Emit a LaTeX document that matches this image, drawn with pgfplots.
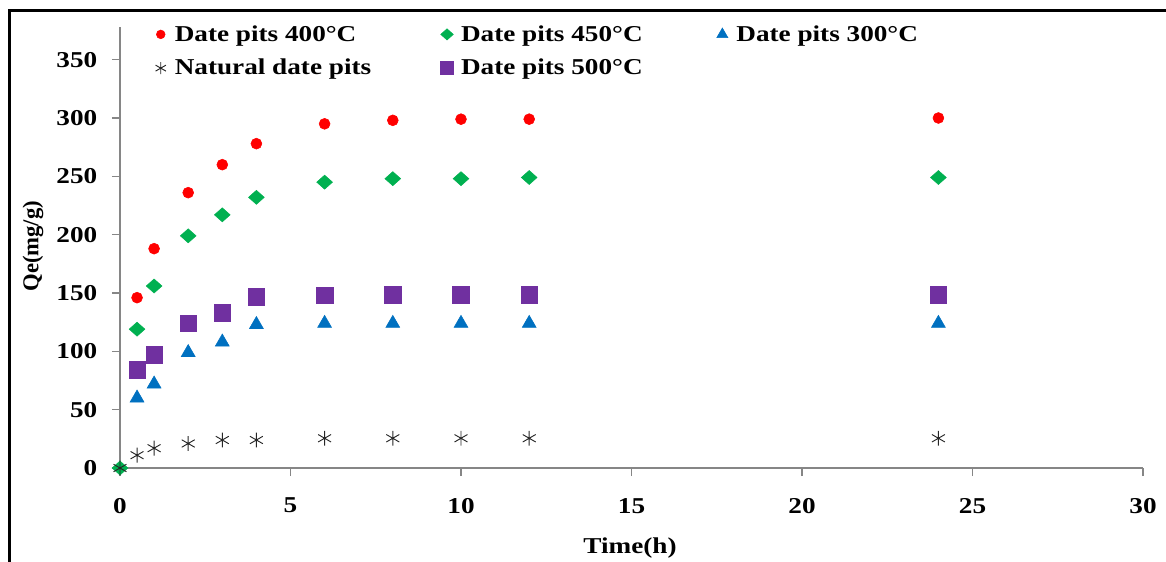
\documentclass[border=0pt]{standalone}
\usepackage{fontspec}
\setmainfont{Liberation Serif}[FakeStretch=1.2]
\newfontfamily\plainserif{Liberation Serif}
\usepackage{pgfplots}
\pgfplotsset{compat=1.18}
\usepackage{pgfplotstable}

\definecolor{cRed}{RGB}{255,0,0}
\definecolor{cGreen}{RGB}{0,176,80}
\definecolor{cBlue}{RGB}{0,112,192}
\definecolor{cPurple}{RGB}{112,48,160}
\definecolor{axgray}{RGB}{134,134,134}

\pgfplotstableread{
x y
0.5 146
1 188
2 236
3 260
4 278
6 295
8 298
10 299
12 299
24 300
}\tRed
\pgfplotstableread{
x y
0 0
0.5 119
1 156
2 199
3 217
4 232
6 245
8 248
10 248
12 249
24 249
}\tGreen
\pgfplotstableread{
x y
0.5 60
1 72
2 99
3 108
4 123
6 124
8 124
10 124
12 124
24 124
}\tBlue
\pgfplotstableread{
x y
0 0
0.5 11
1 17
2 21
3 24
4 24
6 25.5
8 25.5
10 25.5
12 25.5
24 25.5
}\tNat
\pgfplotstableread{
x y
0.5 84
1 97
2 124
3 133
4 147
6 148
8 148.5
10 148.5
12 148.5
24 148.5
}\tPurple

\begin{document}
\begin{tikzpicture}
\begin{axis}[
  at={(0pt,0pt)}, anchor=south west,
  scale only axis, width=767.25pt, height=330.75pt,
  xmin=0, xmax=30, ymin=0, ymax=378,
  axis x line*=bottom, axis y line*=left,
  axis line style={draw=axgray, line width=1pt, -},
  tick style={draw=axgray, line width=1pt},
  major tick length=6pt, tick align=outside,
  xtick={0,5,...,30}, ytick={0,50,...,350},
  /pgf/number format/assume math mode=true,
  ticklabel style={font=\bfseries\fontsize{17}{20}\selectfont},
  yticklabel style={xshift=-7.5pt},
  xticklabel style={yshift=-13pt},
  xlabel={Time(h)}, ylabel={Qe(mg/g)},
  every axis x label/.style={at={(axis description cs:0.4985,-0.1814)}, anchor=center, font=\bfseries\fontsize{17}{20}\selectfont},
  every axis y label/.style={at={(axis description cs:-0.085,0.503)}, anchor=center, rotate=90, font=\plainserif\bfseries\fontsize{17}{20}\selectfont},
  legend columns=3,
  legend cell align=left,
  legend image code/.code={\path[draw=none,fill=none] (-8.5pt,-6pt) rectangle (8.5pt,6pt); \draw[#1,scale=0.8] plot coordinates {(0pt,0pt)};},
  legend style={draw=none, fill=none, at={(axis description cs:0.0246,1.016)}, anchor=north west,
    font=\bfseries\fontsize{17}{20}\selectfont, row sep=8pt},
]
\addplot[only marks, mark=*, mark size=4.1pt, color=cRed] table {\tRed};
\addlegendentry{\makebox[193.7pt][l]{Date pits 400°C}}
\addplot[only marks, mark=diamond*, mark size=5.25pt, color=cGreen, mark options={xscale=1.5}] table {\tGreen};
\addlegendentry{\makebox[185.5pt][l]{Date pits 450°C}}
\addplot[only marks, mark=triangle*, mark size=6pt, color=cBlue] table {\tBlue};
\addlegendentry{Date pits 300°C}
\addplot[only marks, mark=asterisk, mark size=5.6pt, color=black!85, line width=0.7pt] table {\tNat};
\addlegendentry{\makebox[193.7pt][l]{Natural date pits}}
\addplot[only marks, mark=square*, mark size=6.2pt, color=cPurple] table {\tPurple};
\addlegendentry{\makebox[185.5pt][l]{Date pits 500°C}}
\end{axis}
\draw[line width=2.6pt, black] (-82.875pt,-80pt) -- (-82.875pt,343pt) -- (800pt,343pt);
\pgfresetboundingbox
\useasboundingbox (-90pt,-69.75pt) rectangle (784.5pt,351pt);
\end{tikzpicture}
\end{document}
